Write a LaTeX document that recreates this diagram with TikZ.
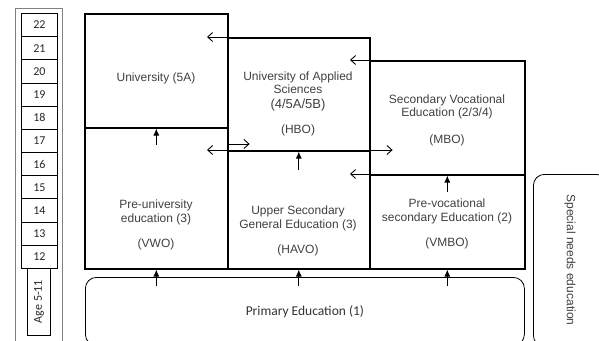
\documentclass[tikz,border=0pt]{standalone}
\usepackage{fontspec}
\setmainfont{Liberation Sans}
\newfontfamily\calfont{Carlito}
\usetikzlibrary{arrows.meta}

\begin{document}
\begin{tikzpicture}[x=1pt, y=-1pt,
  box/.style={draw, line width=1.6pt, anchor=north west, inner sep=0pt},
  agebox/.style={draw, line width=0.8pt, anchor=north west, minimum width=36pt, minimum height=23.18pt, inner sep=0pt, font=\calfont\fontsize{12}{13}\selectfont, text=black!85},
  round/.style={draw, line width=0.8pt, rounded corners=11pt, anchor=north west, inner sep=0pt},
  txt/.style={align=center, font=\fontsize{12}{13.5}\selectfont, text=black!75},
  up/.style={-{Latex[length=7pt, width=6pt]}, line width=0.9pt},
  side/.style={-{Straight Barb[length=5pt, width=9pt]}, line width=0.9pt}]
\useasboundingbox (0,0) rectangle (599,340);
\node[draw=gray, line width=1.2pt, anchor=north west, minimum width=47pt, minimum height=345pt, inner sep=0pt] (agecol) at (15,8) {};
\foreach \a [count=\i from 0] in {22,21,...,12}
  \node[agebox] (age\a) at (21,{13+23.18*\i}) {\a};
\node[agebox, anchor=center, rotate=90, minimum width=67pt] (age511) at (39,301.5) {Age 5-11};
\node[box, minimum width=143pt, minimum height=114pt] (uni) at (84,13) {};
\node[box, minimum width=143pt, minimum height=141pt] (vwo) at (84,127) {};
\node[box, minimum width=142pt, minimum height=113pt] (hbo) at (227,37) {};
\node[box, minimum width=142pt, minimum height=118pt] (havo) at (227,150) {};
\node[box, minimum width=155pt, minimum height=114pt] (mbo) at (369,60) {};
\node[box, minimum width=155pt, minimum height=94pt] (vmbo) at (369,174) {};
\node[round, minimum width=439pt, minimum height=68pt, font=\calfont\fontsize{13.5}{15}\selectfont, text=black!80] (primary) at (85,277) {Primary Education (1)};
\node[round, minimum width=74pt, minimum height=172pt] (special) at (533,174) {};
\node[txt, rotate=-90] (specialtxt) at (570,260) {Special needs education};
\node[txt] (unitxt) at (156,78) {University (5A)};
\node[txt] (hbotxt) at (298,104) {University of Applied\\Sciences\\[1pt]{\fontsize{13}{14}\selectfont(4/5A/5B)}\\[12pt](HBO)};
\node[txt] (mbotxt) at (447,120) {Secondary Vocational\\Education (2/3/4)\\[13pt](MBO)};
\node[txt] (vwotxt) at (156,225) {Pre-university\\education (3)\\[12pt](VWO)};
\node[txt] (havotxt) at (298,231) {Upper Secondary\\General Education (3)\\[12pt](HAVO)};
\node[txt] (vmbotxt) at (447,224) {Pre-vocational\\secondary Education (2)\\[12pt](VMBO)};
\draw[up] ([yshift=-18pt]vwo.north) -- (uni.south);
\draw[up] ([yshift=-20pt]havo.north) -- (hbo.south);
\draw[up] ([yshift=-18pt]vmbo.north) -- (mbo.south);
\draw[up] ([yshift=-9pt]primary.north -| vwo.south) -- (vwo.south);
\draw[up] ([yshift=-9pt]primary.north -| havo.south) -- (havo.south);
\draw[up] ([yshift=-9pt]primary.north -| vmbo.south) -- (vmbo.south);
\draw[side] (hbo.north east) -- ([xshift=-20pt]hbo.north west);
\draw[side] (mbo.north east) -- ([xshift=-19pt]mbo.north west);
\draw[side] (vmbo.north east) -- ([xshift=-19pt]vmbo.north west);
\draw[side, {Straight Barb[length=5pt, width=9pt]}-{Straight Barb[length=5pt, width=9pt]}] ([xshift=-20pt]havo.north west) -- ([xshift=22pt]havo.north east);
\draw[side] ([yshift=-17pt]vwo.north east) -- ++(21,0);
\end{tikzpicture}
\end{document}
